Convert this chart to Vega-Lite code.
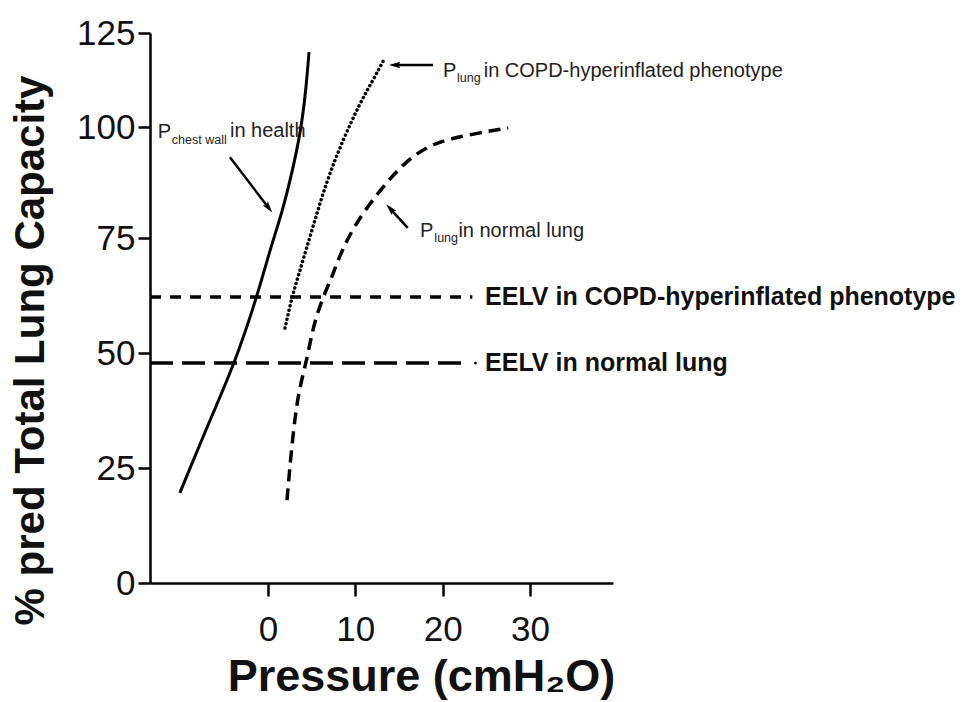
{
  "$schema": "https://vega.github.io/schema/vega-lite/v6.json",
  "width": 463,
  "height": 550,
  "autosize": {"type": "none"},
  "padding": {"left": 150, "top": 33, "right": 356, "bottom": 119},
  "background": "white",
  "config": {"view": {"stroke": null}, "font": "Liberation Sans"},
  "encoding": {
    "x": {
      "field": "x", "type": "quantitative",
      "scale": {"domain": [-13.5, 39.5], "zero": false, "nice": false},
      "axis": {
        "values": [0, 10, 20, 30], "grid": false,
        "domainColor": "black", "domainWidth": 2.5,
        "tickColor": "black", "tickWidth": 2.5, "tickSize": 13,
        "labelFont": "Liberation Sans", "labelFontSize": 35, "labelColor": "#111", "labelPadding": 16,
        "title": "Pressure (cmH₂O)", "titleFont": "Liberation Sans", "titleFontSize": 45, "titleFontWeight": "bold",
        "titleColor": "#111", "titleX": 271, "titleY": 107, "titleBaseline": "alphabetic", "titleAlign": "center"
      }
    },
    "y": {
      "field": "y", "type": "quantitative",
      "scale": {"domain": [0, 25, 50, 75, 100, 125], "range": [550, 435, 320, 205, 94, 0], "zero": false, "nice": false},
      "axis": {
        "values": [0, 25, 50, 75, 100, 125], "grid": false,
        "domainColor": "black", "domainWidth": 2.5,
        "tickColor": "black", "tickWidth": 2.5, "tickSize": 12,
        "labelFont": "Liberation Sans", "labelFontSize": 35, "labelColor": "#111", "labelPadding": 3,
        "title": "% pred Total Lung Capacity", "titleFont": "Liberation Sans", "titleFontSize": 42, "titleFontWeight": "bold",
        "titleColor": "#111", "titleAngle": 270, "titleX": -107, "titleY": 317, "titleBaseline": "alphabetic", "titleAlign": "center"
      }
    }
  },
  "layer": [
    {
      "data": {"values": [
        {"x": -10.08, "y": 19.6}, {"x": -6.99, "y": 33.9}, {"x": -3.78, "y": 47.8}, {"x": -1.26, "y": 62.2},
        {"x": 0.23, "y": 72.4}, {"x": 1.6, "y": 80.6}, {"x": 2.75, "y": 89.6}, {"x": 3.78, "y": 99.3},
        {"x": 4.35, "y": 109.8}, {"x": 4.7, "y": 119.9}
      ]},
      "mark": {"type": "line", "color": "black", "strokeWidth": 3, "interpolate": "basis", "clip": false},
      "encoding": {"order": {"field": "y", "type": "quantitative"}}
    },
    {
      "data": {"values": [
        {"x": 1.95, "y": 55.4}, {"x": 2.75, "y": 62.2}, {"x": 3.67, "y": 68.0}, {"x": 5.15, "y": 77.5},
        {"x": 6.76, "y": 88.1}, {"x": 8.59, "y": 97.1}, {"x": 10.54, "y": 106.4}, {"x": 12.03, "y": 112.5},
        {"x": 13.4, "y": 118.4}
      ]},
      "mark": {"type": "line", "color": "black", "strokeWidth": 3.5, "strokeDash": [0.1, 4.5], "strokeCap": "round", "interpolate": "basis", "clip": false},
      "encoding": {"order": {"field": "y", "type": "quantitative"}}
    },
    {
      "data": {"values": [
        {"x": 2.18, "y": 18.0}, {"x": 2.75, "y": 30.4}, {"x": 3.44, "y": 41.3}, {"x": 4.47, "y": 48.5},
        {"x": 5.15, "y": 55.7}, {"x": 6.3, "y": 62.2}, {"x": 7.33, "y": 66.5}, {"x": 8.0, "y": 70.2},
        {"x": 9.74, "y": 77.5}, {"x": 12.8, "y": 85.8}, {"x": 15.9, "y": 92.6}, {"x": 18.9, "y": 96.4},
        {"x": 22.8, "y": 98.2}, {"x": 27.5, "y": 99.8}
      ]},
      "mark": {"type": "line", "color": "black", "strokeWidth": 3.5, "strokeDash": [12, 7], "interpolate": "basis", "clip": false},
      "encoding": {"order": {"field": "y", "type": "quantitative"}}
    },
    {
      "data": {"values": [{"x": -13.5, "y": 62.2}, {"x": 23.4, "y": 62.2}]},
      "mark": {"type": "line", "color": "black", "strokeWidth": 3.5, "strokeDash": [11, 9]}
    },
    {
      "data": {"values": [{"x": -13.5, "y": 47.8}, {"x": 23.1, "y": 47.8}]},
      "mark": {"type": "line", "color": "black", "strokeWidth": 3.5, "strokeDash": [23, 9]}
    },
    {
      "data": {"values": [{"x": 23.75, "y": 47.8}]},
      "mark": {"type": "point", "shape": "circle", "filled": true, "color": "black", "size": 8, "opacity": 1}
    },
    {
      "data": {"values": [
        {"x": -4.35, "y": 93.2, "x2": 0.0, "y2": 82.0},
        {"x": 18.9, "y": 116.5, "x2": 14.66, "y2": 116.5},
        {"x": 16.0, "y": 77.3, "x2": 14.09, "y2": 81.4}
      ]},
      "mark": {"type": "rule", "color": "black", "strokeWidth": 2.5},
      "encoding": {"x2": {"field": "x2"}, "y2": {"field": "y2"}}
    },
    {
      "data": {"values": [{"x": 0.0, "y": 82.0}]},
      "mark": {"type": "point", "shape": "M0,-1L0.45,0.6L0,0.35L-0.45,0.6Z", "filled": true, "color": "black", "size": 200, "angle": 142.6, "opacity": 1}
    },
    {
      "data": {"values": [{"x": 14.66, "y": 116.5}]},
      "mark": {"type": "point", "shape": "M0,-1L0.45,0.6L0,0.35L-0.45,0.6Z", "filled": true, "color": "black", "size": 200, "angle": 270, "opacity": 1}
    },
    {
      "data": {"values": [{"x": 14.09, "y": 81.4}]},
      "mark": {"type": "point", "shape": "M0,-1L0.45,0.6L0,0.35L-0.45,0.6Z", "filled": true, "color": "black", "size": 200, "angle": 317.6, "opacity": 1}
    },
    {
      "data": {"values": [
        {"x": -12.6, "y": 97.5, "label": "P"},
        {"x": -4.35, "y": 97.7, "label": "in health"},
        {"x": 20.05, "y": 113.3, "label": "P"},
        {"x": 24.7, "y": 113.3, "label": "in COPD-hyperinflated phenotype"},
        {"x": 17.4, "y": 75.2, "label": "P"},
        {"x": 21.8, "y": 75.2, "label": "in normal lung"}
      ]},
      "mark": {"type": "text", "align": "left", "baseline": "alphabetic", "fontSize": 20, "color": "#222", "font": "Liberation Sans"},
      "encoding": {"text": {"field": "label"}}
    },
    {
      "data": {"values": [
        {"x": -11.0, "y": 96.2, "label": "chest wall"},
        {"x": 21.65, "y": 112.0, "label": "lung"},
        {"x": 19.05, "y": 74.1, "label": "lung"}
      ]},
      "mark": {"type": "text", "align": "left", "baseline": "alphabetic", "fontSize": 12.5, "color": "#222", "font": "Liberation Sans"},
      "encoding": {"text": {"field": "label"}}
    },
    {
      "data": {"values": [
        {"x": 24.86, "y": 62.2, "label": "EELV in COPD-hyperinflated phenotype"},
        {"x": 24.86, "y": 47.8, "label": "EELV in normal lung"}
      ]},
      "mark": {"type": "text", "align": "left", "baseline": "middle", "fontSize": 25, "fontWeight": "bold", "color": "#111", "font": "Liberation Sans"},
      "encoding": {"text": {"field": "label"}}
    }
  ]
}
